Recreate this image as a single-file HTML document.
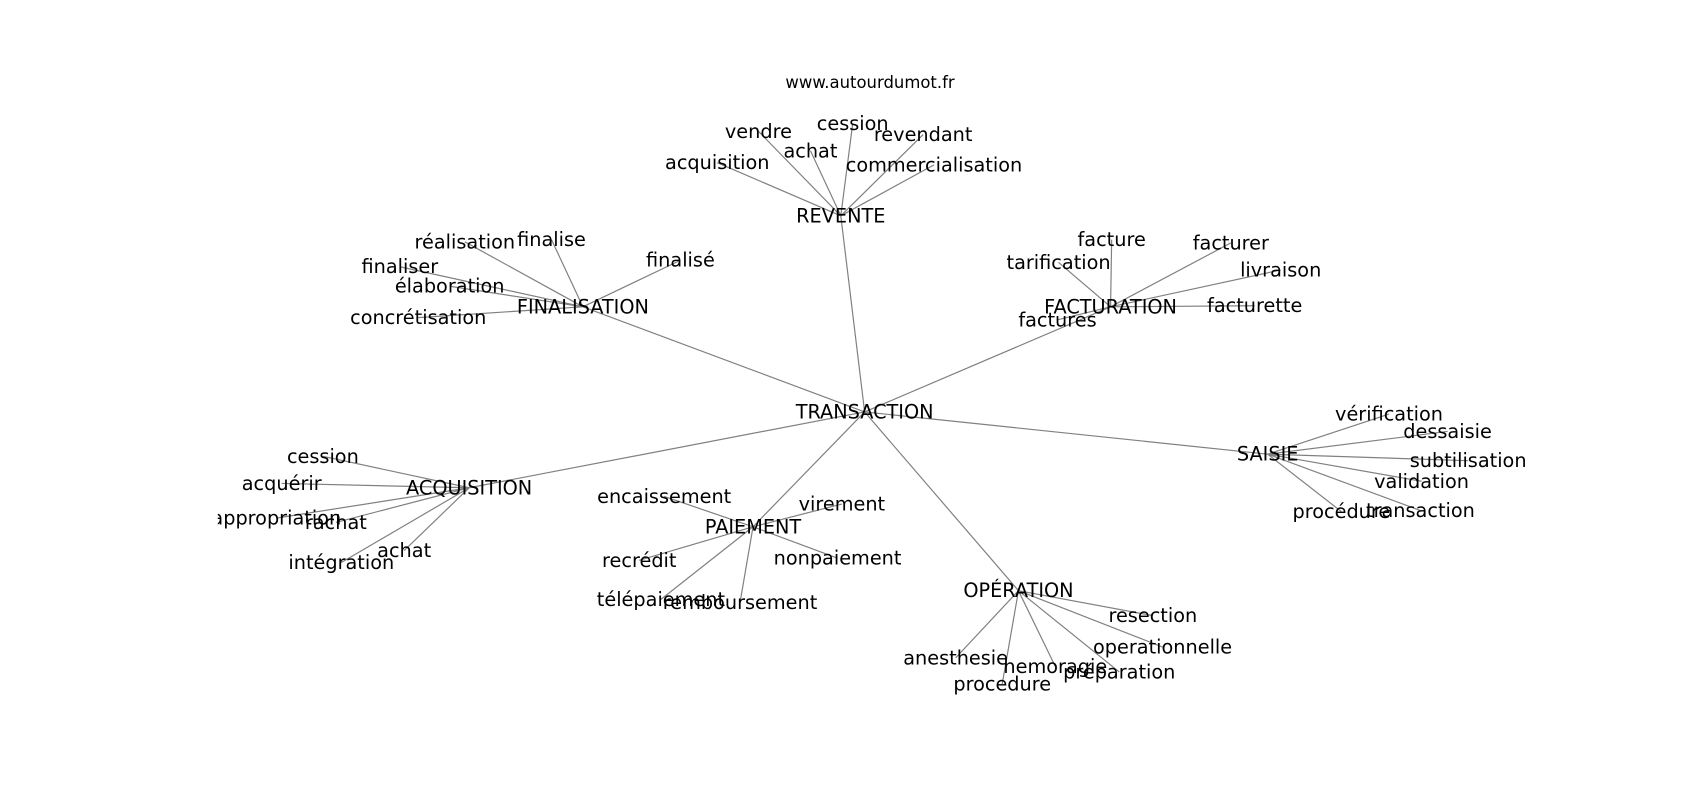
<!DOCTYPE html>
<html><head><meta charset="utf-8"><style>html,body{margin:0;padding:0;background:#fff}svg{display:block}</style></head>
<body>
<svg width="1700" height="800" viewBox="0 0 1569 738" xmlns="http://www.w3.org/2000/svg" font-family="DejaVu Sans, Liberation Sans, sans-serif">
<defs><clipPath id="c"><rect x="201" y="0" width="1360" height="738"/></clipPath></defs>
<g stroke="#808080" stroke-width="1.1" fill="none">
<path d="M798 380L776 199M798 380L538 283M798 380L1025 283M798 380L1170 419M798 380L433 450M798 380L695 486M798 380L940 545"/>
<path d="M776 199L662 150M776 199L700 121M776 199L748 139M776 199L787 114M776 199L852 124M776 199L862 152"/>
<path d="M538 283L429 223M538 283L509 221M538 283L628 240M538 283L369 246M538 283L415 264M538 283L386 293"/>
<path d="M1025 283L1026 221M1025 283L1136 224M1025 283L977 242M1025 283L1182 249M1025 283L1158 282M1025 283L976 295"/>
<path d="M1170 419L1282 382M1170 419L1336 398M1170 419L1355 425M1170 419L1312 444M1170 419L1238 472M1170 419L1311 471"/>
<path d="M433 450L298 421M433 450L260 446M433 450L255 478M433 450L310 482M433 450L373 508M433 450L315 519"/>
<path d="M695 486L613 458M695 486L777 465M695 486L590 517M695 486L773 515M695 486L610 553M695 486L683 556"/>
<path d="M940 545L1064 568M940 545L1073 597M940 545L882 607M940 545L974 615M940 545L925 631M940 545L1033 620"/>
</g>
<g font-size="17.8" fill="#000" text-anchor="middle" dominant-baseline="central" clip-path="url(#c)">
<text x="803" y="76" font-size="15.2">www.autourdumot.fr</text>
<text x="798" y="380">TRANSACTION</text>
<text x="776" y="199">REVENTE</text>
<text x="662" y="150">acquisition</text><text x="700" y="121">vendre</text><text x="748" y="139">achat</text><text x="787" y="114">cession</text><text x="852" y="124">revendant</text><text x="862" y="152">commercialisation</text>
<text x="538" y="283">FINALISATION</text>
<text x="429" y="223">réalisation</text><text x="509" y="221">finalise</text><text x="628" y="240">finalisé</text><text x="369" y="246">finaliser</text><text x="415" y="264">élaboration</text><text x="386" y="293">concrétisation</text>
<text x="1025" y="283">FACTURATION</text>
<text x="1026" y="221">facture</text><text x="1136" y="224">facturer</text><text x="977" y="242">tarification</text><text x="1182" y="249">livraison</text><text x="1158" y="282">facturette</text><text x="976" y="295">factures</text>
<text x="1170" y="419">SAISIE</text>
<text x="1282" y="382">vérification</text><text x="1336" y="398">dessaisie</text><text x="1355" y="425">subtilisation</text><text x="1312" y="444">validation</text><text x="1238" y="472">procédure</text><text x="1311" y="471">transaction</text>
<text x="433" y="450">ACQUISITION</text>
<text x="298" y="421">cession</text><text x="260" y="446">acquérir</text><text x="255" y="478">appropriation</text><text x="310" y="482">rachat</text><text x="373" y="508">achat</text><text x="315" y="519">intégration</text>
<text x="695" y="486">PAIEMENT</text>
<text x="613" y="458">encaissement</text><text x="777" y="465">virement</text><text x="590" y="517">recrédit</text><text x="773" y="515">nonpaiement</text><text x="610" y="553">télépaiement</text><text x="683" y="556">remboursement</text>
<text x="940" y="545">OPÉRATION</text>
<text x="1064" y="568">resection</text><text x="1073" y="597">operationnelle</text><text x="882" y="607">anesthesie</text><text x="974" y="615">hemoragie</text><text x="925" y="631">procedure</text><text x="1033" y="620">préparation</text>
</g>
</svg>
</body></html>
